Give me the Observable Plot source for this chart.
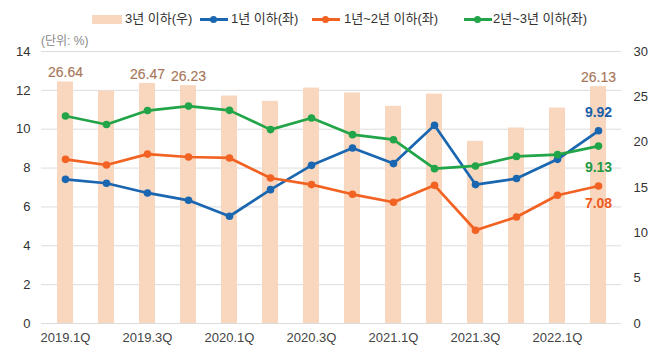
<!DOCTYPE html>
<html>
<head>
<meta charset="utf-8">
<script src="https://cdn.jsdelivr.net/npm/d3@7"></script>
<script src="https://cdn.jsdelivr.net/npm/@observablehq/plot@0.6"></script>
<style>
  body { margin: 0; background: #fff; font-family: "Liberation Sans", "Noto Sans CJK KR", sans-serif; }
  #wrap { position: relative; width: 658px; height: 355px; }
  #head { position: relative; width: 658px; height: 40px; color: #333; font-size: 13px; }
  .item { position: absolute; top: 11px; height: 16px; line-height: 16px; white-space: nowrap; }
  .sw { position: absolute; }
  #unit { position: absolute; left: 41px; top: 31px; font-size: 12px; color: #888; }
</style>
</head>
<body>
<div id="wrap">
  <div id="head"></div>
  <div id="chart"></div>
</div>
<script>
const quarters = ["2019.1Q","2019.2Q","2019.3Q","2019.4Q","2020.1Q","2020.2Q","2020.3Q","2020.4Q","2021.1Q","2021.2Q","2021.3Q","2021.4Q","2022.1Q","2022.2Q"];
const tickQuarters = ["2019.1Q","2019.3Q","2020.1Q","2020.3Q","2021.1Q","2021.3Q","2022.1Q"];
const under3y = [26.64, 25.64, 26.47, 26.23, 25.09, 24.5, 25.97, 25.42, 23.95, 25.3, 20.09, 21.56, 23.76, 26.13];
const under1y = [7.42, 7.22, 6.72, 6.34, 5.52, 6.89, 8.14, 9.03, 8.23, 10.2, 7.15, 7.46, 8.45, 9.92];
const y1to2 = [8.45, 8.16, 8.72, 8.57, 8.52, 7.49, 7.15, 6.65, 6.24, 7.11, 4.8, 5.48, 6.6, 7.08];
const y2to3 = [10.68, 10.24, 10.96, 11.19, 10.97, 9.98, 10.58, 9.72, 9.46, 7.97, 8.11, 8.6, 8.69, 9.13];
const barLabelQuarters = ["2019.1Q","2019.3Q","2019.4Q","2022.2Q"];
const leftTicks = [0, 2, 4, 6, 8, 10, 12, 14];
const rightTicks = [0, 5, 10, 15, 20, 25, 30];
const seriesNames = ["3년 이하(우)", "1년 이하(좌)", "1년~2년 이하(좌)", "2년~3년 이하(좌)"];
const unitLabel = "(단위: %)";

const colors = { bar: "#f9d7bf", s1: "#1a66b0", s2: "#f26222", s3: "#22a548", barText: "#a8775a" };
const leftMax = 14, rightMax = 30;
const k = leftMax / rightMax;

// legend
const head = document.getElementById("head");
const legendSpec = [
  { name: seriesNames[0], type: "bar", color: colors.bar, x: 92, tx: 125 },
  { name: seriesNames[1], type: "line", color: colors.s1, x: 200, tx: 231 },
  { name: seriesNames[2], type: "line", color: colors.s2, x: 312, tx: 344 },
  { name: seriesNames[3], type: "line", color: colors.s3, x: 464, tx: 493 }
];
for (const s of legendSpec) {
  if (s.type === "bar") {
    const sw = document.createElement("div");
    sw.className = "sw";
    Object.assign(sw.style, { left: s.x + "px", top: "15px", width: "30px", height: "9px", background: s.color });
    head.appendChild(sw);
  } else {
    const sw = document.createElement("div");
    sw.className = "sw";
    Object.assign(sw.style, { left: s.x + "px", top: "18px", width: "28px", height: "3px", background: s.color });
    head.appendChild(sw);
    const dot = document.createElement("div");
    dot.className = "sw";
    Object.assign(dot.style, { left: (s.x + 10) + "px", top: "16px", width: "7px", height: "7px", borderRadius: "50%", background: s.color });
    head.appendChild(dot);
  }
  const t = document.createElement("div");
  t.className = "item";
  t.style.left = s.tx + "px";
  t.textContent = s.name;
  head.appendChild(t);
}
const unit = document.createElement("div");
unit.id = "unit";
unit.textContent = unitLabel;
head.appendChild(unit);

const bars = quarters.map((q, i) => ({ q, v: under3y[i], y: under3y[i] * k }));
const lines = [];
quarters.forEach((q, i) => {
  lines.push({ q, s: "s1", v: under1y[i] });
  lines.push({ q, s: "s2", v: y1to2[i] });
  lines.push({ q, s: "s3", v: y2to3[i] });
});
const last = quarters[quarters.length - 1];
const li = quarters.length - 1;

const chart = Plot.plot({
  width: 658,
  height: 315,
  marginLeft: 41,
  marginRight: 37,
  marginTop: 11,
  marginBottom: 32,
  style: { fontFamily: "'Liberation Sans', 'Noto Sans CJK KR', sans-serif", fontSize: "13px", color: "#333", background: "#fff" },
  x: { domain: quarters, paddingInner: 0.61, paddingOuter: 0.305, axis: null, label: null },
  y: { domain: [0, leftMax], axis: null, label: null },
  color: { domain: ["s1", "s2", "s3"], range: [colors.s1, colors.s2, colors.s3] },
  marks: [
    Plot.gridY(leftTicks, { stroke: "#dcdcdc", strokeOpacity: 1, strokeWidth: 1 }),
    Plot.barY(bars, { x: "q", y: "y", fill: colors.bar }),
    Plot.axisX(tickQuarters, { tickSize: 0, tickPadding: 9, fill: "#444", fontSize: 13, label: null }),
    Plot.axisY(leftTicks, { anchor: "left", tickSize: 0, tickPadding: 11, fill: "#333", fontSize: 13, label: null }),
    Plot.axisY(rightTicks.map(d => d * k), { anchor: "right", tickSize: 0, tickPadding: 12, fill: "#333", fontSize: 13, label: null, tickFormat: d => String(Math.round(d / k)) }),
    Plot.line(lines, { x: "q", y: "v", z: "s", stroke: "s", strokeWidth: 2.7 }),
    Plot.dot(lines, { x: "q", y: "v", fill: "s", r: 3.8 }),
    Plot.text(bars.filter(d => barLabelQuarters.includes(d.q)), { x: "q", y: "y", text: d => d.v.toFixed(2), dy: -9, fill: colors.barText, fontSize: 14, stroke: colors.barText, strokeWidth: 0.15 }),
    Plot.text([{ q: last, v: under1y[li] }], { x: "q", y: "v", text: d => d.v.toFixed(2), dy: -18, fill: "#1a5fa8", fontSize: 14, fontWeight: "bold" }),
    Plot.text([{ q: last, v: y2to3[li] }], { x: "q", y: "v", text: d => d.v.toFixed(2), dy: 21, fill: "#1f9a44", fontSize: 14, fontWeight: "bold" }),
    Plot.text([{ q: last, v: y1to2[li] }], { x: "q", y: "v", text: d => d.v.toFixed(2), dy: 18, fill: "#ee5a1c", fontSize: 14, fontWeight: "bold" })
  ]
});
document.getElementById("chart").appendChild(chart);
</script>
</body>
</html>
